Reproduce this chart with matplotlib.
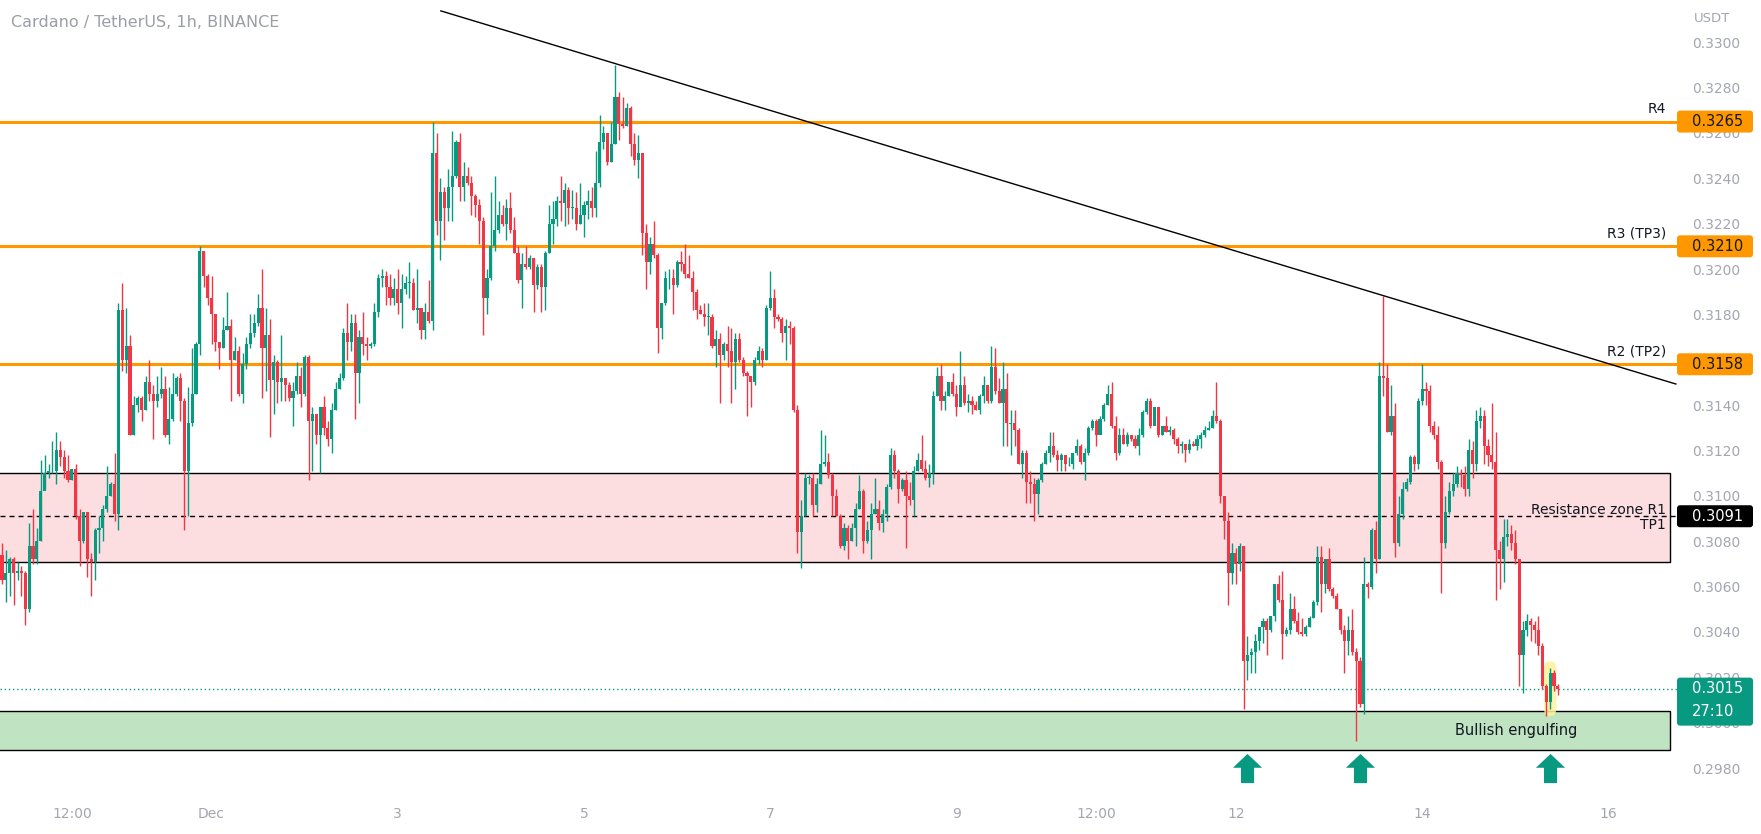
import numpy as np
import matplotlib
matplotlib.use("Agg")
import matplotlib.pyplot as plt
from matplotlib.path import Path
from matplotlib.patches import Rectangle, FancyBboxPatch

# ADA/USDT 1h candles, prices in 1e-4 USDT, first candle ~ Nov 28 18:00
first_open = 3074
closes = [
    3063, 3066, 3072, 3066, 3067, 3066, 3050, 3078, 3072, 3080,
    3102, 3110, 3111, 3111, 3120, 3117, 3111, 3107, 3112, 3091,
    3080, 3093, 3072, 3071, 3085, 3086, 3094, 3100, 3105, 3092,
    3182, 3160, 3166, 3127, 3140, 3143, 3138, 3150, 3145, 3142,
    3145, 3147, 3127, 3134, 3145, 3152, 3142, 3111, 3132, 3145,
    3167,
    3208, 3197, 3187, 3180, 3168, 3165, 3173, 3175, 3160, 3164,
    3145, 3158, 3167, 3172, 3176, 3183, 3165, 3171, 3151, 3159,
    3150, 3152, 3149, 3143, 3146, 3153, 3145, 3161, 3133, 3136,
    3127, 3139, 3130, 3125, 3138, 3147, 3152, 3172, 3168, 3176,
    3154, 3170, 3167, 3166, 3167, 3181, 3196, 3197, 3192, 3187,
    3191,
    3185, 3191, 3194, 3194, 3182, 3183, 3173, 3181, 3177, 3251,
    3221, 3234, 3227, 3236, 3241, 3256, 3236, 3241, 3238, 3232,
    3228, 3221, 3187, 3196, 3210, 3217, 3224, 3220, 3227, 3217,
    3207, 3195, 3202, 3201, 3205, 3193, 3201, 3192, 3207, 3220,
    3222, 3230, 3229, 3235, 3227, 3227, 3220, 3224, 3228, 3230,
    3227, 3238,
    3256, 3260, 3247, 3255, 3276, 3264, 3263, 3271, 3255, 3248,
    3251, 3216, 3203, 3211, 3206, 3174, 3185, 3196, 3196, 3193,
    3203, 3202, 3198, 3196, 3190, 3182, 3180, 3179, 3179, 3166,
    3169, 3162, 3167, 3164, 3159, 3169, 3160, 3154, 3153, 3150,
    3160, 3164, 3160, 3183, 3187, 3179, 3178, 3172, 3175, 3174,
    3138,
    3084, 3091, 3108, 3108, 3096, 3105, 3114, 3115, 3109, 3100,
    3091, 3078, 3086, 3080, 3086, 3094, 3102, 3080, 3085, 3092,
    3094, 3088, 3092, 3104, 3118, 3111, 3103, 3107, 3100, 3098,
    3111, 3116, 3112, 3108, 3110, 3144, 3153, 3142, 3144, 3150,
    3145, 3139, 3149, 3141, 3142, 3140, 3138, 3144, 3149, 3142,
    3157, 3146,
    3141, 3147, 3132, 3132, 3129, 3114, 3119, 3106, 3105, 3101,
    3107, 3114, 3119, 3122, 3118, 3116, 3118, 3114, 3114, 3119,
    3122, 3115, 3119, 3130, 3133, 3127, 3134, 3140, 3145, 3131,
    3119, 3127, 3123, 3127, 3125, 3122, 3127, 3137, 3142, 3131,
    3139, 3127, 3131, 3128, 3129, 3125, 3122, 3123, 3120, 3123,
    3122, 3125,
    3127, 3129, 3130, 3135, 3133, 3100, 3089, 3066, 3075, 3070,
    3078, 3027, 3030, 3031, 3036, 3042, 3045, 3041, 3047, 3061,
    3054, 3039, 3041, 3050, 3045, 3040, 3039, 3042, 3046, 3053,
    3073, 3061, 3072, 3059, 3056, 3050, 3041, 3036, 3041, 3031,
    3027, 3008, 3061, 3060, 3085, 3072, 3153, 3152, 3128, 3135,
    3079,
    3092, 3103, 3106, 3117, 3114, 3142, 3147, 3146, 3131, 3127,
    3115, 3079, 3093, 3102, 3105, 3110, 3109, 3103, 3120, 3114,
    3133, 3135, 3122, 3118, 3115, 3076, 3072, 3082, 3083, 3079,
    3072, 3030, 3041, 3045, 3043, 3041, 3034, 3016, 3009, 3022,
    3016, 3015,
]
highs = [
    3079, 3076, 3073, 3073, 3071, 3069, 3067, 3088, 3094, 3086,
    3116, 3118, 3114, 3124, 3128, 3124, 3120, 3118, 3112, 3114,
    3094, 3093, 3093, 3075, 3086, 3091, 3096, 3113, 3106, 3119,
    3185, 3194, 3183, 3171, 3144, 3144, 3144, 3153, 3160, 3149,
    3153, 3157, 3153, 3148, 3154, 3153, 3154, 3143, 3148, 3165,
    3168,
    3210, 3208, 3198, 3197, 3180, 3168, 3179, 3190, 3178, 3170,
    3166, 3163, 3170, 3180, 3180, 3189, 3200, 3183, 3178, 3162,
    3160, 3171, 3152, 3150, 3150, 3159, 3157, 3162, 3162, 3139,
    3136, 3139, 3144, 3133, 3141, 3150, 3154, 3174, 3185, 3180,
    3180, 3173, 3181, 3170, 3168, 3185, 3198, 3200, 3199, 3198,
    3196,
    3200, 3198, 3197, 3203, 3196, 3200, 3182, 3185, 3195, 3265,
    3260, 3240, 3236, 3244, 3261, 3257, 3260, 3247, 3245, 3241,
    3233, 3231, 3223, 3200, 3234, 3241, 3230, 3228, 3231, 3234,
    3223, 3210, 3207, 3210, 3206, 3205, 3202, 3202, 3208, 3228,
    3230, 3232, 3241, 3238, 3236, 3235, 3234, 3238, 3230, 3235,
    3236, 3252,
    3268, 3263, 3260, 3265, 3290, 3278, 3276, 3273, 3272, 3260,
    3259, 3250, 3220, 3214, 3221, 3207, 3185, 3199, 3200, 3200,
    3204, 3208, 3211, 3206, 3199, 3191, 3184, 3185, 3185, 3180,
    3173, 3172, 3168, 3175, 3174, 3172, 3172, 3161, 3155, 3153,
    3161, 3166, 3165, 3184, 3199, 3191, 3180, 3179, 3178, 3177,
    3175,
    3140, 3098, 3110, 3109, 3110, 3108, 3129, 3127, 3119, 3110,
    3103, 3092, 3088, 3087, 3088, 3097, 3109, 3103, 3089, 3097,
    3108, 3098, 3094, 3105, 3121, 3120, 3112, 3108, 3111, 3106,
    3113, 3119, 3127, 3116, 3114, 3146, 3157, 3158, 3146, 3150,
    3154, 3149, 3164, 3153, 3145, 3144, 3142, 3145, 3153, 3149,
    3166, 3165,
    3152, 3159, 3154, 3138, 3138, 3130, 3120, 3120, 3111, 3108,
    3108, 3115, 3120, 3128, 3128, 3120, 3119, 3118, 3117, 3119,
    3125, 3123, 3121, 3131, 3134, 3134, 3135, 3141, 3149, 3150,
    3135, 3130, 3130, 3128, 3127, 3127, 3130, 3138, 3143, 3143,
    3139, 3139, 3131, 3135, 3131, 3130, 3126, 3124, 3122, 3125,
    3124, 3127,
    3128, 3131, 3133, 3138, 3150, 3134, 3100, 3093, 3079, 3077,
    3079, 3078, 3038, 3033, 3039, 3042, 3046, 3046, 3047, 3061,
    3065, 3067, 3042, 3057, 3056, 3049, 3046, 3043, 3047, 3054,
    3078, 3078, 3072, 3077, 3060, 3057, 3050, 3043, 3047, 3050,
    3033, 3029, 3073, 3062, 3086, 3089, 3159, 3188, 3158, 3149,
    3141,
    3100, 3106, 3108, 3118, 3118, 3143, 3158, 3150, 3149, 3133,
    3131, 3116, 3100, 3106, 3110, 3113, 3112, 3113, 3125, 3124,
    3138, 3139, 3138, 3125, 3141, 3128, 3080, 3090, 3090, 3087,
    3085, 3072, 3045, 3048, 3046, 3045, 3047, 3035, 3017, 3024,
    3023, 3017,
]
lows = [
    3061, 3053, 3056, 3052, 3063, 3056, 3043, 3049, 3070, 3070,
    3080, 3103, 3108, 3110, 3105, 3113, 3108, 3106, 3107, 3090,
    3069, 3079, 3064, 3056, 3063, 3075, 3080, 3093, 3100, 3089,
    3085, 3155, 3154, 3127, 3127, 3137, 3133, 3138, 3142, 3125,
    3139, 3143, 3126, 3123, 3133, 3144, 3133, 3085, 3091, 3131,
    3145,
    3162, 3192, 3184, 3167, 3164, 3156, 3165, 3173, 3142, 3160,
    3144, 3141, 3156, 3165, 3170, 3175, 3143, 3146, 3126, 3136,
    3141, 3142, 3142, 3142, 3131, 3145, 3139, 3144, 3107, 3111,
    3123, 3110, 3127, 3122, 3119, 3138, 3147, 3151, 3160, 3164,
    3134, 3141, 3162, 3160, 3165, 3166, 3179, 3192, 3184, 3184,
    3184,
    3180, 3174, 3189, 3187, 3182, 3176, 3169, 3169, 3176, 3173,
    3215, 3204, 3213, 3221, 3221, 3240, 3230, 3230, 3237, 3224,
    3223, 3211, 3171, 3180, 3195, 3208, 3216, 3219, 3213, 3216,
    3207, 3194, 3183, 3200, 3200, 3181, 3191, 3181, 3182, 3207,
    3211, 3219, 3221, 3219, 3220, 3222, 3217, 3220, 3214, 3222,
    3223, 3223,
    3236, 3253, 3246, 3247, 3255, 3257, 3262, 3263, 3250, 3246,
    3240, 3206, 3191, 3198, 3205, 3163, 3169, 3184, 3191, 3180,
    3192, 3199, 3196, 3196, 3182, 3178, 3180, 3175, 3171, 3165,
    3157, 3141, 3160, 3157, 3141, 3147, 3159, 3153, 3135, 3139,
    3149, 3158, 3157, 3160, 3182, 3174, 3177, 3168, 3160, 3167,
    3137,
    3075, 3068, 3091, 3105, 3091, 3093, 3105, 3113, 3108, 3091,
    3091, 3077, 3076, 3072, 3080, 3078, 3094, 3075, 3079, 3072,
    3092, 3085, 3084, 3089, 3103, 3108, 3097, 3102, 3077, 3096,
    3091, 3111, 3111, 3107, 3104, 3105, 3144, 3138, 3138, 3144,
    3144, 3135, 3140, 3140, 3137, 3136, 3138, 3136, 3141, 3141,
    3141, 3145,
    3141, 3122, 3122, 3118, 3122, 3114, 3108, 3097, 3097, 3089,
    3092, 3106, 3114, 3115, 3117, 3111, 3111, 3111, 3113, 3112,
    3118, 3114, 3107, 3118, 3129, 3122, 3128, 3133, 3140, 3130,
    3116, 3118, 3123, 3122, 3124, 3121, 3118, 3126, 3136, 3130,
    3132, 3126, 3127, 3128, 3127, 3123, 3119, 3119, 3115, 3119,
    3122, 3120,
    3121, 3126, 3129, 3130, 3132, 3097, 3081, 3052, 3061, 3061,
    3067, 3006, 3019, 3022, 3022, 3032, 3035, 3030, 3040, 3045,
    3053, 3028, 3038, 3039, 3044, 3039, 3038, 3038, 3042, 3046,
    3052, 3049, 3057, 3058, 3055, 3050, 3039, 3022, 3030, 3030,
    2992, 3007, 3004, 3055, 3059, 3066, 3072, 3144, 3128, 3127,
    3073,
    3078, 3090, 3102, 3105, 3111, 3112, 3140, 3140, 3128, 3125,
    3112, 3057, 3077, 3092, 3100, 3104, 3104, 3100, 3100, 3108,
    3111, 3130, 3114, 3113, 3112, 3054, 3059, 3062, 3078, 3076,
    3070, 3016, 3013, 3038, 3036, 3035, 3030, 3015, 3003, 3006,
    3014, 3012,
]

# drawings on the chart (prices in 1e-4)
levels = [3265, 3210, 3158]
level_names = ["R4", "R3 (TP3)", "R2 (TP2)"]
zone_r1 = [3071, 3110]
tp1 = 3091
zone_bull = [2988, 3005]
last_price = 3015
countdown = "27:10"
trend_x = [113.1, 431.4]
trend_y = [3313.8, 3149.3]
arrow_x = [321, 350, 399]
engulf_x = 399
tick_pos = [18, 54, 102, 150, 198, 246, 282, 318, 366, 414]
tick_lab = ["12:00", "Dec", "3", "5", "7", "9", "12:00", "12", "14", "16"]
y_ticks = list(range(2980, 3301, 20))
hidden_ticks = [3160]  # fully covered by the 0.3158 label in the reference

GREEN = "#089981"
RED = "#f23645"
ORANGE = "#ff9800"
GREY = "#a3a6af"

W, H = 1761, 834
fig = plt.figure(figsize=(W / 100, H / 100), dpi=100)
ax_h = 795
ax_w = 1677
ax = fig.add_axes([0, (H - ax_h) / H, ax_w / W, ax_h / H])

c = np.array(closes) / 1e4
h = np.array(highs) / 1e4
l = np.array(lows) / 1e4
o = np.concatenate([[first_open / 1e4], c[:-1]])
x = np.arange(len(c))
colors = np.where(c >= o, GREEN, RED)

ax.vlines(x, l, h, colors=colors, lw=1, zorder=4)
body = np.abs(c - o)
bottom = np.minimum(o, c)
small = body < 0.00003
bottom[small] -= 0.000015
body[small] = 0.00003
ax.bar(x, body, bottom=bottom, width=0.8, color=colors, linewidth=0, zorder=5)

# zones
x_end = 429.9
ax.add_patch(Rectangle((-5, zone_r1[0] / 1e4), x_end + 5, (zone_r1[1] - zone_r1[0]) / 1e4,
                       fc="#fcdde0", ec="black", lw=1, zorder=1))
ax.add_patch(Rectangle((-5, zone_bull[0] / 1e4), x_end + 5, (zone_bull[1] - zone_bull[0]) / 1e4,
                       fc="#c0e4c2", ec="black", lw=1, zorder=1))
ax.axhline(tp1 / 1e4, color="black", lw=1, ls=(0, (3.6, 2.9)), zorder=2)
ax.axhline(last_price / 1e4, color=GREEN, lw=1, ls=(0, (1, 2)), zorder=2)

for p, name in zip(levels, level_names):
    ax.axhline(p / 1e4, color=ORANGE, lw=2.2, zorder=3)
    ax.annotate(name, (428.9, p / 1e4), xytext=(0, 4), textcoords="offset points",
                ha="right", va="bottom", fontsize=10, color="#131722")

ax.plot(trend_x, np.array(trend_y) / 1e4, color="black", lw=1, zorder=6)

ax.annotate("Resistance zone R1", (428.9, tp1 / 1e4), xytext=(0, 1.5), textcoords="offset points",
            ha="right", va="baseline", fontsize=10, color="#131722")
ax.annotate("TP1", (428.9, tp1 / 1e4), xytext=(0, -1.5), textcoords="offset points",
            ha="right", va="top", fontsize=10, color="#131722")
ax.text(390.2, (zone_bull[0] + zone_bull[1]) / 2e4, "Bullish engulfing", ha="center", va="center",
        fontsize=10.5, color="#131722", zorder=7)

# glow on the engulfing candle
ax.add_patch(FancyBboxPatch((engulf_x - 1.6, 0.3003), 3.2, 0.0024,
                            boxstyle="round,pad=0,rounding_size=1.2", mutation_aspect=0.0003,
                            fc="#fff09a", ec="none", alpha=0.85, zorder=3.5))

# up arrows
arrow = Path([(0, 1), (1, 0.05), (0.45, 0.05), (0.45, -1), (-0.45, -1), (-0.45, 0.05),
              (-1, 0.05), (0, 1)],
             [Path.MOVETO] + [Path.LINETO] * 6 + [Path.CLOSEPOLY])
ax.scatter(arrow_x, [0.29801] * len(arrow_x), marker=arrow, s=21 ** 2, color=GREEN,
           linewidths=0, zorder=7)

ylo, yhi = 0.29681, 0.33186
ax.set_xlim(-0.515, 431.7)
ax.set_ylim(ylo, yhi)
for s in ax.spines.values():
    s.set_visible(False)
ax.yaxis.tick_right()
ax.set_yticks([t / 1e4 for t in y_ticks],
              ["" if t in hidden_ticks else f"{t / 1e4:.4f}" for t in y_ticks])
ax.tick_params(axis="y", length=0, pad=10.8, labelcolor=GREY, labelsize=10)
ax.set_xticks(tick_pos, tick_lab)
ax.tick_params(axis="x", length=0, pad=9, labelcolor=GREY, labelsize=10)

# overlay in pixel coordinates for price labels and title
ov = fig.add_axes([0, 0, 1, 1], zorder=10)
ov.set_xlim(0, W)
ov.set_ylim(H, 0)
ov.axis("off")
ov.patch.set_visible(False)


def ypx(p):
    return (yhi - p / 1e4) / (yhi - ylo) * ax_h


def price_box(p, fc, tc, lines=1):
    yc = ypx(p)
    hgt = 22 if lines == 1 else 48
    top = yc - 11
    ov.add_patch(FancyBboxPatch((1677, top), 76, hgt, boxstyle="round,pad=0,rounding_size=3",
                                fc=fc, ec="none"))
    ov.text(1692, yc, f"{p / 1e4:.4f}", ha="left", va="center", fontsize=10.5, color=tc)
    if lines == 2:
        ov.text(1692, yc + 23, countdown, ha="left", va="center", fontsize=10.5, color=tc)


for p in levels:
    price_box(p, ORANGE, "#131722")
price_box(tp1, "#000000", "white")
price_box(last_price, GREEN, "white", lines=2)

ov.text(11, 22, "Cardano / TetherUS, 1h, BINANCE", ha="left", va="center",
        fontsize=11.5, color="#9b9ea6")
ov.text(1694, 18, "USDT", ha="left", va="center", fontsize=9.5, color=GREY)

fig.savefig("out.png", dpi=100, facecolor="white")
